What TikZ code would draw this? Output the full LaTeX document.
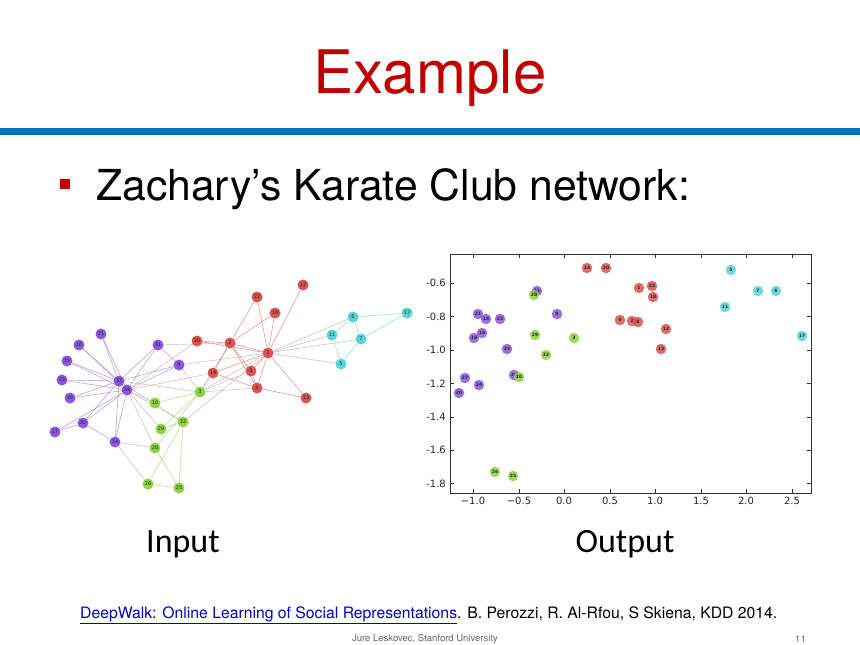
\documentclass[tikz,border=0pt]{standalone}
\usepackage{fontspec}
\setmainfont{TeX Gyre Heros}
\newfontfamily\dejavu{DejaVu Sans}
\newfontfamily\carl{Carlito}
\definecolor{titlered}{RGB}{192,0,0}
\definecolor{barblue}{RGB}{0,112,192}
\definecolor{linkblue}{RGB}{0,0,204}
\definecolor{fR}{RGB}{218,82,82}
\definecolor{fC}{RGB}{88,212,212}
\definecolor{fP}{RGB}{140,84,224}
\definecolor{fG}{RGB}{140,212,64}
\definecolor{eR}{RGB}{222,120,120}
\definecolor{eC}{RGB}{120,214,214}
\definecolor{eP}{RGB}{165,135,222}
\definecolor{eG}{RGB}{165,214,115}
\definecolor{emix}{RGB}{196,178,170}
\pgfdeclarelayer{bg}
\pgfsetlayers{bg,main}
\tikzset{
  gnode/.style={circle,inner sep=0pt,minimum size=11pt,font=\dejavu\fontsize{5}{5}\selectfont,text=black!85},
  snode/.style={circle,inner sep=0pt,minimum size=10.5pt,font=\dejavu\bfseries\fontsize{4.5}{4.5}\selectfont,text=black!85,fill opacity=0.85,text opacity=1},
  gedge/.style={line width=0.55pt,opacity=0.8},
  tickl/.style={font=\dejavu\fontsize{10}{10}\selectfont,text=black!85,inner sep=1pt},
}
\begin{document}
\begin{tikzpicture}[x=1pt,y=-1pt]
\useasboundingbox (0,0) rectangle (860,645);
\begin{pgfonlayer}{bg}
\fill[white] (0,0) rectangle (860,645);
\end{pgfonlayer}
% header
\node[anchor=base,text=titlered,font=\fontsize{60}{60}\selectfont,inner sep=0pt] (title) at (430,93) {Example};
\fill[barblue] (0,128) rectangle (860,135);
\fill[titlered] (60,179) rectangle (70,189);
\node[anchor=base west,font=\fontsize{42.7}{42.7}\selectfont,inner sep=0pt] (sub) at (96,200) {Zachary’s Karate Club network:};
% left graph nodes
\foreach \n/\x/\y/\c in {1/268/353/R,2/230/343/R,3/200/392/G,4/257/388/R,5/341/364/C,6/353/317/C,7/361/339/C,8/251/371/R,9/179/365/P,10/155/403/G,11/332/335/C,12/303/285/R,13/306/398/R,14/213/373/R,15/67/361/P,16/79/345/P,17/407/313/C,18/275/313/R,19/70/398/P,20/197/341/R,21/101/334/P,22/257/297/R,23/62/380/P,24/115/442/P,25/179/488/G,26/148/484/G,27/55/432/P,28/155/448/G,29/161/429/G,30/83/423/P,31/158/345/P,32/183/422/G,33/119/381/P,34/127/390/P}{
  \node[gnode,fill=f\c] (n\n) at (\x,\y) {\n};
  \expandafter\xdef\csname cm\n\endcsname{\c}
}
\begin{pgfonlayer}{bg}
\foreach \a/\b in {1/2,1/3,1/4,1/5,1/6,1/7,1/8,1/9,1/11,1/12,1/13,1/14,1/18,1/20,1/22,1/32,2/3,2/4,2/8,2/14,2/18,2/20,2/22,2/31,3/4,3/8,3/9,3/10,3/14,3/28,3/29,3/33,4/8,4/13,4/14,5/7,5/11,6/7,6/11,6/17,7/17,9/31,9/33,9/34,10/34,14/34,15/33,15/34,16/33,16/34,19/33,19/34,20/34,21/33,21/34,23/33,23/34,24/26,24/28,24/30,24/33,24/34,25/26,25/28,25/32,26/32,27/30,27/34,28/34,29/32,29/34,30/33,30/34,31/33,31/34,32/33,32/34,33/34}{
  \edef\ca{\csname cm\a\endcsname}\edef\cb{\csname cm\b\endcsname}
  \ifx\ca\cb\edef\ec{e\ca}\else\def\ec{emix}\fi
  \draw[gedge,draw=\ec] (n\a) -- (n\b);
}
\end{pgfonlayer}
% scatter frame
\draw[black!80,line width=0.6pt] (450,254) rectangle (811,493);
\foreach \v/\t/\xx in {a/−1.0/473,b/−0.5/519,c/0.0/564,d/0.5/610,e/1.0/655,f/1.5/701,g/2.0/746,h/2.5/792}{
  \draw[black!80,line width=0.5pt] (\xx,493) -- ++(0,-4);
  \draw[black!80,line width=0.5pt] (\xx,254) -- ++(0,4);
  \node[tickl,anchor=north] (xl\v) at (\xx,496) {\t};
}
\foreach \v/\t/\yy in {a/-0.6/283.2,b/-0.8/316.6,c/-1.0/350,d/-1.2/383.4,e/-1.4/416.8,f/-1.6/450.2,g/-1.8/483.6}{
  \draw[black!80,line width=0.5pt] (450,\yy) -- ++(4,0);
  \draw[black!80,line width=0.5pt] (811,\yy) -- ++(-4,0);
  \node[tickl,anchor=east] (yl\v) at (447,\yy) {\t};
}
% scatter points
\foreach \n/\x/\y/\c in {14/587/268/R,20/606/268/R,1/639/288/R,22/652/286/R,18/653/297/R,4/620/320/R,2/632/321/R,8/638/322/R,12/666/329/R,13/661/349/R,5/731/270/C,7/758/291/C,6/776/291/C,11/725/307/C,17/802/336/C,31/537/291/P,28/534/295/G,21/478/314/P,15/486/319/P,23/500/319/P,9/557/314/P,16/482/333/P,19/474/338/P,29/535/335/G,3/574/338/G,33/507/349/P,32/546/355/G,27/465/378/P,24/479/385/P,30/459/393/P,34/514/375/P,10/519/377/G,26/495/472/G,25/513/476/G}{
  \node[snode,fill=f\c] (s\n) at (\x,\y) {\n};
}
% captions
\node[anchor=base,font=\carl\fontsize{34}{34}\selectfont,inner sep=0pt] (inp) at (183,552) {Input};
\node[anchor=base,font=\carl\fontsize{34}{34}\selectfont,inner sep=0pt] (outp) at (625,552) {Output};
% footer
\node[anchor=base west,font=\fontsize{15.75}{15.75}\selectfont,inner sep=0pt] (ref) at (80,618) {\textcolor{linkblue}{\underline{DeepWalk: Online Learning of Social Representations}}. B. Perozzi, R. Al-Rfou, S Skiena, KDD 2014.};
\node[anchor=base,font=\fontsize{9.5}{9.5}\selectfont,text=black!60,inner sep=0pt] (auth) at (425,641) {Jure Leskovec, Stanford University};
\node[anchor=base east,font=\fontsize{9.5}{9.5}\selectfont,text=black!60,inner sep=0pt] (pg) at (806,642) {11};
\end{tikzpicture}
\end{document}
